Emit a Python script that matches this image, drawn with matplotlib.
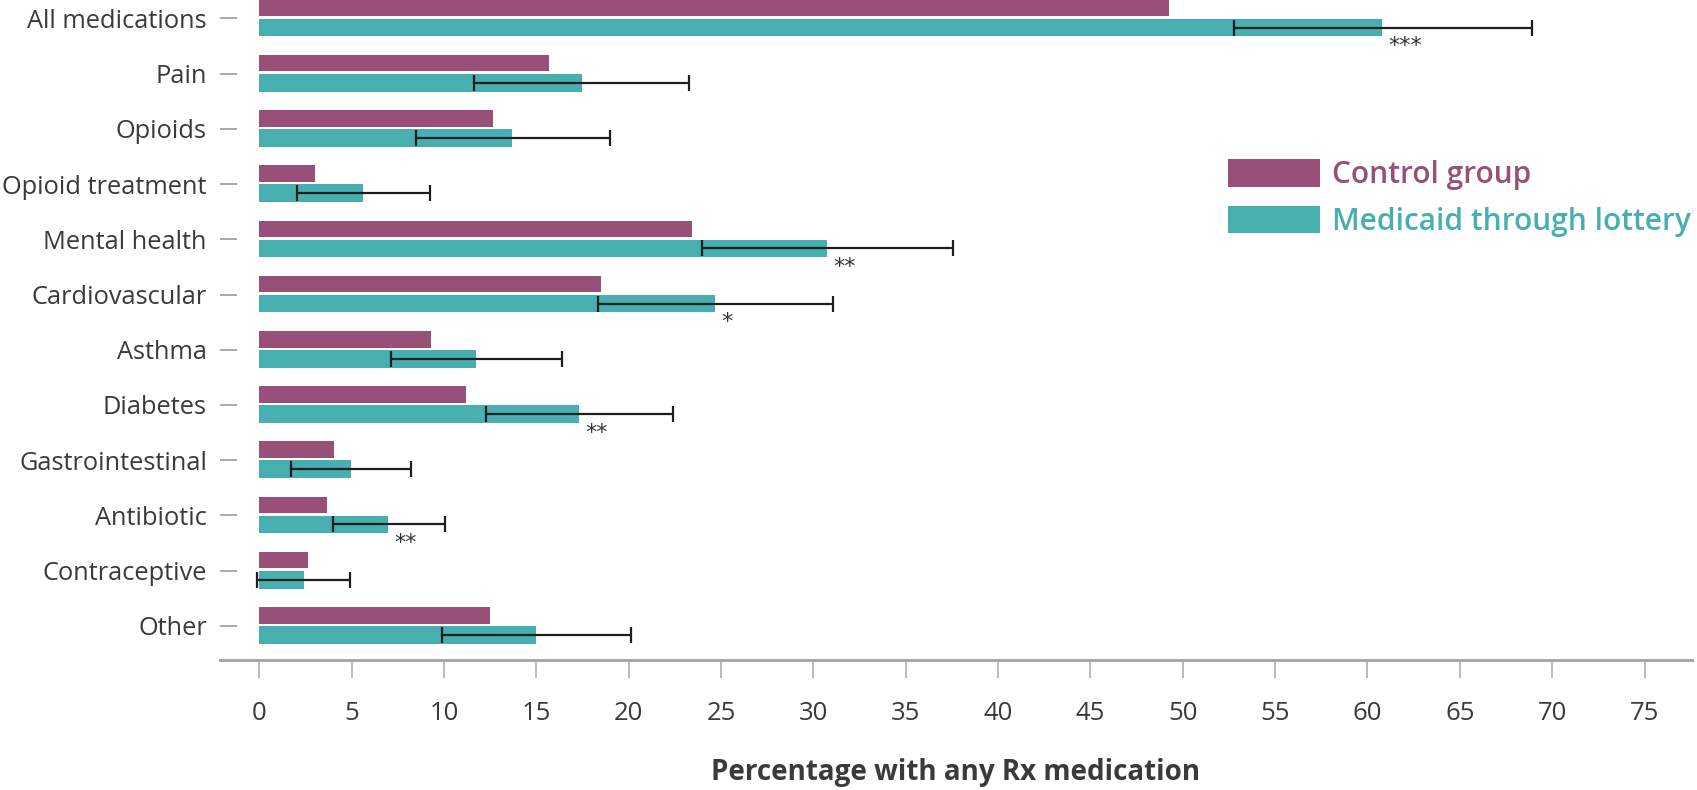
import matplotlib
matplotlib.use("Agg")
import matplotlib.pyplot as plt
import numpy as np

# ---- data ----
categories = ["All medications", "Pain", "Opioids", "Opioid treatment", "Mental health",
              "Cardiovascular", "Asthma", "Diabetes", "Gastrointestinal", "Antibiotic",
              "Contraceptive", "Other"]
control = [49.25, 15.68, 12.67, 3.02, 23.41, 18.5, 9.30, 11.18, 4.05, 3.67, 2.65, 12.47]
medicaid = [60.77, 17.45, 13.69, 5.63, 30.74, 24.67, 11.73, 17.31, 4.97, 6.95, 2.40, 14.98]
ci_low = [52.77, 11.65, 8.47, 2.02, 23.97, 18.32, 7.12, 12.26, 1.71, 3.97, -0.12, 9.87]
ci_high = [68.9, 23.25, 19.0, 9.24, 37.54, 31.04, 16.37, 22.4, 8.22, 10.05, 4.91, 20.12]
stars = ["***", "", "", "", "**", "*", "", "**", "", "**", "", ""]
series_labels = ["Control group", "Medicaid through lottery"]
xticks = list(range(0, 80, 5))
xlabel = "Percentage with any Rx medication"

C_CTRL = "#985078"
C_MED = "#47AFAF"
TXT = "#3a3a3a"
GRAY = "#a8a8a8"
FONT = "Open Sans"

plt.rcParams["font.family"] = [FONT, "DejaVu Sans"]

W, H = 1697, 790
fig = plt.figure(figsize=(W / 100, H / 100), dpi=100)
ax = fig.add_axes([220 / W, 130 / H, (1692 - 220) / W, 660 / H])

y = np.arange(len(categories))
med = np.array(medicaid)
lo = med - np.array(ci_low)
hi = np.array(ci_high) - med

b1 = ax.barh(y - 0.19, control, height=0.30, color=C_CTRL, label=series_labels[0], zorder=2)
b2 = ax.barh(y + 0.165, medicaid, height=0.32, color=C_MED, label=series_labels[1], zorder=2)
ax.errorbar(medicaid, y + 0.165, xerr=[lo, hi], fmt="none", ecolor="#1e1e1e",
            elinewidth=1.6, capsize=5.5, capthick=1.6, zorder=3)

for yi, v, s in zip(y, medicaid, stars):
    if s:
        ax.text(v + 0.35, yi + 0.32, s, ha="left", va="top", fontsize=16,
                family="DejaVu Sans", color="#333333", zorder=4)

ax.set_xlim(-2.128, 77.57)
ax.set_ylim(11.62, -0.335)

ax.set_yticks(y)
ax.set_yticklabels(categories)
ax.set_xticks(xticks)
ax.set_xticklabels([str(t) for t in xticks])

ax.tick_params(axis="y", direction="in", length=12, width=1.4, color=GRAY,
               pad=9.4, labelsize=18.3, labelcolor=TXT)
ax.tick_params(axis="x", direction="out", length=13, width=1.1, color=GRAY,
               pad=16.5, labelsize=18.5, labelcolor=TXT)

for side in ["left", "top", "right"]:
    ax.spines[side].set_visible(False)
ax.spines["bottom"].set_color(GRAY)
ax.spines["bottom"].set_linewidth(2.2)

ax.set_xlabel(xlabel, fontsize=20, fontweight="bold", color=TXT, labelpad=23)

leg = ax.legend(handles=[b1, b2], loc="upper left",
                bbox_to_anchor=(1227.7 / W, 1 - 159.3 / H), bbox_transform=fig.transFigure,
                frameon=False, borderpad=0, borderaxespad=0,
                handlelength=3.1, handleheight=1.03, handletextpad=0.38,
                labelspacing=0.52, prop={"family": FONT, "weight": "semibold", "size": 21.5},
                labelcolor=[C_CTRL, C_MED])

fig.savefig("out.png", dpi=100, facecolor="white")
